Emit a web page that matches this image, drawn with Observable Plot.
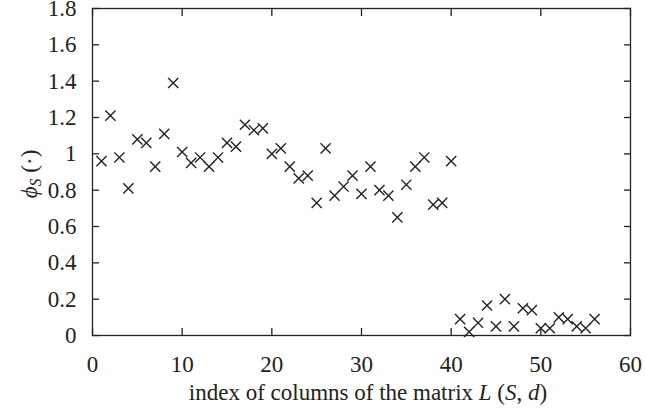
<!DOCTYPE html>
<html>
<head>
<meta charset="utf-8">
<script src="https://cdn.jsdelivr.net/npm/d3@7"></script>
<script src="https://cdn.jsdelivr.net/npm/@observablehq/plot@0.6"></script>
<style>
  html, body { margin: 0; padding: 0; background: #fff; }
  #chart svg { display: block; }
</style>
</head>
<body>
<div id="chart"></div>
<script>
// Data
const columnIndex = [1,2,3,4,5,6,7,8,9,10,11,12,13,14,15,16,17,18,19,20,21,22,23,24,25,26,27,28,29,30,31,32,33,34,35,36,37,38,39,40,41,42,43,44,45,46,47,48,49,50,51,52,53,54,55,56];
const phiValues = [0.96,1.21,0.98,0.81,1.08,1.06,0.93,1.11,1.39,1.01,0.95,0.98,0.93,0.98,1.06,1.04,1.16,1.13,1.14,1.00,1.03,0.93,0.865,0.88,0.73,1.03,0.77,0.82,0.88,0.78,0.93,0.80,0.77,0.65,0.83,0.93,0.98,0.72,0.73,0.96,0.09,0.02,0.07,0.165,0.05,0.20,0.05,0.15,0.14,0.04,0.04,0.10,0.09,0.05,0.04,0.09];
const xTicks = [0,10,20,30,40,50,60];
const yTicks = [0,0.2,0.4,0.6,0.8,1,1.2,1.4,1.6,1.8];

const points = columnIndex.map((c, i) => ({c, v: phiValues[i]}));
const ink = "#222";
const serif = "Liberation Serif";
const fs = 23;
const fmtY = d => d === 0 ? "0" : d === 1 ? "1" : d3.format(".1f")(d);

const chart = Plot.plot({
  width: 645,
  height: 412,
  marginLeft: 92,
  marginRight: 15,
  marginTop: 8,
  marginBottom: 77,
  style: {background: "#fff"},
  x: {domain: [0, 60]},
  y: {domain: [0, 1.8]},
  marks: [
    Plot.frame({stroke: ink, strokeWidth: 1.3}),
    Plot.axisX({anchor: "bottom", ticks: xTicks, tickSize: -7, tickPadding: 27, tickFormat: d => String(d), label: null, stroke: ink, strokeWidth: 1.3, fill: ink, fontFamily: serif, fontSize: fs, fontVariant: "normal"}),
    Plot.axisX({anchor: "top", ticks: xTicks, tickSize: -7, tickFormat: () => "", label: null, stroke: ink, strokeWidth: 1.3}),
    Plot.axisY({anchor: "left", ticks: yTicks, tickSize: -7, tickPadding: 23, tickFormat: fmtY, label: null, stroke: ink, strokeWidth: 1.3, fill: ink, fontFamily: serif, fontSize: fs, fontVariant: "normal"}),
    Plot.axisY({anchor: "right", ticks: yTicks, tickSize: -7, tickFormat: () => "", label: null, stroke: ink, strokeWidth: 1.3}),
    Plot.dot(points, {x: "c", y: "v", symbol: "times", r: 4.7, stroke: ink, strokeWidth: 1.4})
  ]
});
document.getElementById("chart").appendChild(chart);

const svg = d3.select(chart);
// force serif tick labels at the reference size
svg.selectAll("text").each(function () {
  this.style.setProperty("font-family", "'Liberation Serif', serif", "important");
  this.style.setProperty("font-size", fs + "px", "important");
  this.style.setProperty("font-variant-numeric", "normal", "important");
});

// Axis titles with italic math parts, as real text
const xl = svg.append("text")
  .attr("y", 400)
  .attr("text-anchor", "start")
  .attr("fill", ink)
  .attr("font-family", serif)
  .attr("font-size", fs);
xl.append("tspan").text("index of columns of the matrix ");
xl.append("tspan").attr("font-style", "italic").text("L");
xl.append("tspan").text(" (");
xl.append("tspan").attr("font-style", "italic").text("S");
xl.append("tspan").text(", ");
xl.append("tspan").attr("font-style", "italic").text("d");
xl.append("tspan").text(")");
const xw = xl.node().getComputedTextLength();
xl.attr("x", 368 - xw / 2);

const yl = svg.append("text")
  .attr("text-anchor", "start")
  .attr("fill", ink)
  .attr("font-family", serif)
  .attr("font-size", fs);
yl.append("tspan").attr("font-style", "italic").text("ϕ");
yl.append("tspan").attr("font-style", "italic").attr("font-size", 16).attr("dy", "4").text("S");
yl.append("tspan").attr("dy", "-4").text(" (·)");
const yw = yl.node().getComputedTextLength();
yl.attr("transform", `translate(37,${174 + yw / 2}) rotate(-90)`);
</script>
</body>
</html>
